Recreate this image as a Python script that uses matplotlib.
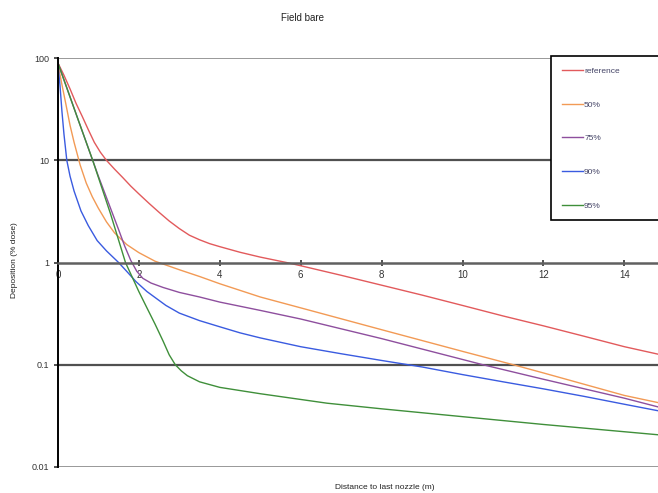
import numpy as np
import matplotlib.pyplot as plt

plt.rcParams['font.family'] = ['Liberation Sans', 'DejaVu Sans']

# Values (distance in m, deposition in % dose)
x_ref = [0, 0.15, 0.3, 0.45, 0.6, 0.75, 0.9, 1.05, 1.2, 1.4, 1.6, 1.8, 2.0, 2.25, 2.5, 2.75, 3.0, 3.25,
         3.5, 3.75, 4.0, 4.5, 5.0, 5.65, 6, 7, 8, 9, 10, 11, 12, 13, 14, 14.9]
y_ref = [90, 68, 50, 36, 27, 20, 15, 12, 10, 8.2, 6.8, 5.6, 4.7, 3.8, 3.1, 2.55, 2.15, 1.85,
         1.67, 1.53, 1.43, 1.26, 1.13, 1.0, 0.93, 0.75, 0.6, 0.48, 0.38, 0.3, 0.24, 0.19, 0.15, 0.125]

x_50 = [0, 0.1, 0.2, 0.3, 0.4, 0.55, 0.7, 0.85, 1.0, 1.2, 1.4, 1.7, 2.0, 2.4, 3.0, 3.5, 4.0, 5.0,
        6.0, 8.0, 10.0, 11.25, 12.0, 14.0, 14.9]
y_50 = [88, 55, 35, 22, 15, 9.0, 6.0, 4.4, 3.4, 2.5, 1.95, 1.5, 1.25, 1.03, 0.85, 0.73, 0.62, 0.46,
        0.36, 0.22, 0.135, 0.1, 0.083, 0.05, 0.042]

x_75 = [0, 0.5, 1.0, 1.3, 1.5, 1.65, 1.8, 1.95, 2.1, 2.3, 2.6, 3.0, 3.5, 4.0, 5.0, 6.0, 8.0, 10.5,
        12.0, 14.0, 14.9]
y_75 = [90, 25, 7.0, 3.4, 2.1, 1.45, 1.05, 0.82, 0.7, 0.63, 0.57, 0.51, 0.46, 0.41, 0.34, 0.28, 0.18, 0.1,
        0.072, 0.047, 0.038]

x_90 = [0, 0.05, 0.1, 0.15, 0.22, 0.3, 0.4, 0.57, 0.75, 0.97, 1.2, 1.5, 1.7, 1.93, 2.2, 2.45, 2.67,
        3.0, 3.5, 4.0, 4.5, 5.0, 6.0, 7.0, 8.0, 9.0, 10.0, 11.0, 12.0, 13.0, 14.0, 14.9]
y_90 = [88, 55, 30, 18, 10, 7.0, 5.0, 3.2, 2.3, 1.64, 1.3, 1.0, 0.82, 0.65, 0.52, 0.44, 0.38,
        0.32, 0.27, 0.235, 0.205, 0.183, 0.15, 0.128, 0.11, 0.095, 0.08, 0.068, 0.058, 0.049, 0.041, 0.035]

x_95 = [0, 0.5, 0.86, 1.3, 1.67, 1.85, 2.0, 2.2, 2.4, 2.6, 2.75, 2.9, 3.05, 3.2, 3.5, 4.0, 5.0, 6.65,
        8.0, 10.0, 12.0, 14.9]
y_95 = [90, 25, 10, 3.0, 1.0, 0.7, 0.52, 0.36, 0.25, 0.17, 0.125, 0.1, 0.087, 0.078, 0.068, 0.06, 0.052, 0.042,
        0.037, 0.031, 0.026, 0.0205]

series = [
    (x_ref, y_ref, 'reference', '#e25a5c'),
    (x_50, y_50, '50%', '#f29a55'),
    (x_75, y_75, '75%', '#8e4f9e'),
    (x_90, y_90, '90%', '#3a5be0'),
    (x_95, y_95, '95%', '#3f8f3a'),
]

fig = plt.figure(figsize=(6.58, 4.93), dpi=100)
ax = fig.add_axes([0.088, 0.053, 0.912, 0.829])

for xs, ys, lab, col in series:
    ax.plot(xs, ys, color=col, lw=1.0, label=lab)

ax.set_yscale('log')
ax.set_ylim(0.01, 100)
ax.set_xlim(0, 14.83)

# horizontal lines
for v in [10, 0.1]:
    ax.axhline(v, color='#505050', lw=1.6, zorder=1)
for v in [100, 0.01]:
    ax.axhline(v, color='#999999', lw=1.4, zorder=1)

# x axis crosses at y = 1
ax.spines['bottom'].set_position(('data', 1))
ax.spines['bottom'].set_color('#606060')
ax.spines['bottom'].set_linewidth(1.8)
ax.spines['top'].set_visible(False)
ax.spines['right'].set_visible(False)
ax.spines['left'].set_linewidth(1.4)

ax.set_xticks(np.arange(0, 15, 2))
ax.set_yticks([0.01, 0.1, 1, 10, 100])
ax.set_yticklabels(['0.01', '0.1', '1', '10', '100'])
ax.minorticks_off()
ax.tick_params(axis='x', direction='inout', length=5, width=1.2, labelsize=7, pad=3, colors='#333333')
ax.tick_params(axis='y', direction='out', length=3, width=1.2, labelsize=6.5, pad=3, colors='#333333')

fig.text(0.46, 0.963, 'Field bare', ha='center', va='center', fontsize=7, color='#222222')
fig.text(0.585, 0.012, 'Distance to last nozzle (m)', ha='center', va='center', fontsize=6, color='#222222')
fig.text(0.022, 0.472, 'Deposition (% dose)', ha='center', va='center', rotation=90, fontsize=6, color='#222222')

leg = fig.legend(loc='upper left', bbox_to_anchor=(0.837, 0.886, 0.2, 0), mode='expand', fontsize=6,
                 frameon=True, fancybox=False, framealpha=1, labelspacing=3.1, handlelength=2.6,
                 handletextpad=0.1, borderpad=1.3, borderaxespad=0)
leg.get_frame().set_edgecolor('black')
leg.get_frame().set_linewidth(1.2)
for t in leg.get_texts():
    t.set_color('#444466')

fig.savefig('out.png', dpi=100)
